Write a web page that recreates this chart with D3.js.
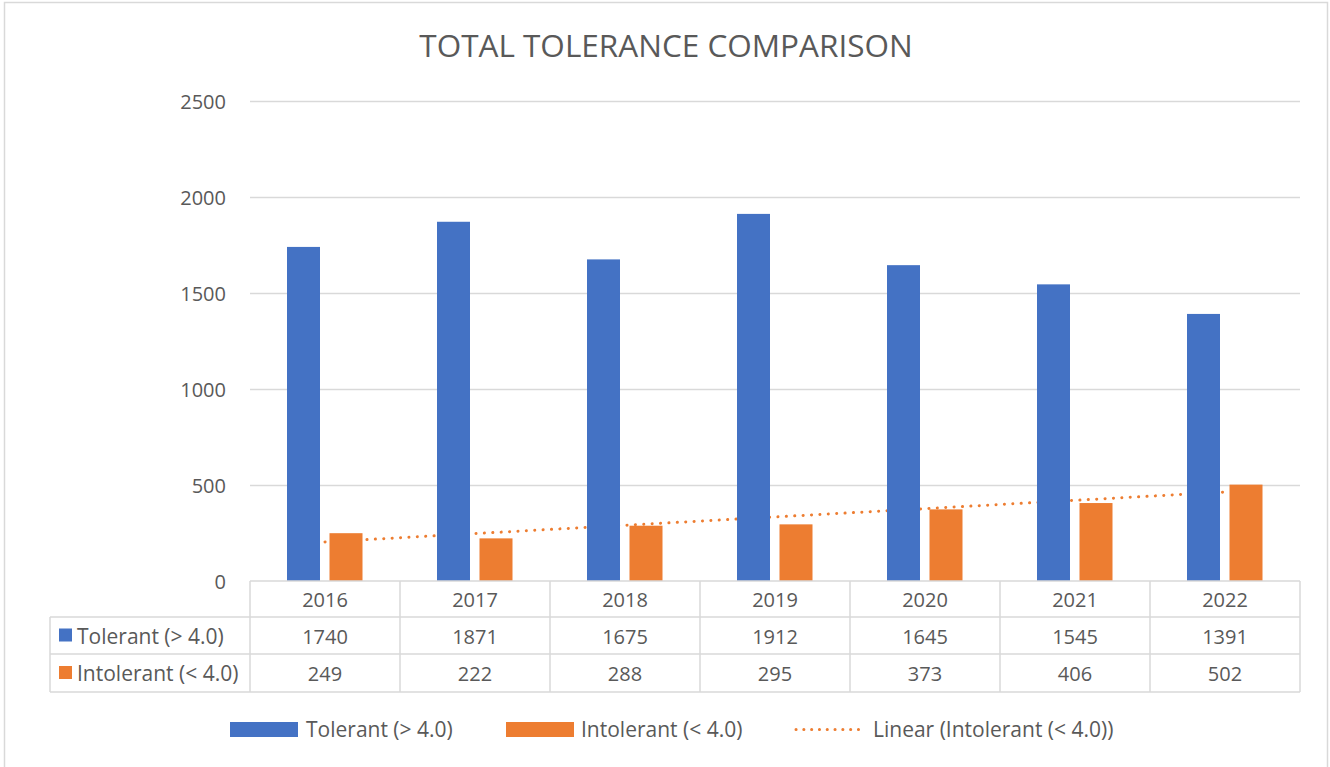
<!DOCTYPE html>
<html lang="en">
<head>
<meta charset="utf-8">
<title>Total Tolerance Comparison</title>
<script src="https://cdn.jsdelivr.net/npm/d3@7"></script>
<style>
  body { margin: 0; background: #fff; }
  text { font-family: "Open Sans", sans-serif; fill: #595959; }
</style>
</head>
<body>
<script>
// data
var years = ["2016", "2017", "2018", "2019", "2020", "2021", "2022"];
var tolerant = [1740, 1871, 1675, 1912, 1645, 1545, 1391];
var intolerant = [249, 222, 288, 295, 373, 406, 502];
var yTicks = [0, 500, 1000, 1500, 2000, 2500];
var seriesNames = ["Tolerant (> 4.0)", "Intolerant (< 4.0)"];
var trendName = "Linear (Intolerant (< 4.0))";

var W = 1330, H = 767;
var blue = "#4472C4", orange = "#ED7D31", grid = "#d9d9d9";

var svg = d3.select("body").append("svg")
    .attr("width", W)
    .attr("height", H);

// chart frame
svg.append("rect")
    .attr("x", 4.5).attr("y", 2.5)
    .attr("width", 1323).attr("height", 800)
    .attr("fill", "#fff")
    .attr("stroke", grid).attr("stroke-width", 1.5);

svg.append("text")
    .attr("x", 666).attr("y", 57)
    .attr("text-anchor", "middle")
    .style("font-size", "31.5px")
    .text("TOTAL TOLERANCE COMPARISON");

var x = d3.scaleBand().domain(years).range([250, 1300]);
var y = d3.scaleLinear().domain([0, 2500]).range([581, 101]);

// gridlines + y labels
svg.append("g").selectAll("line")
    .data(yTicks.slice(1))
    .join("line")
    .attr("x1", 250).attr("x2", 1300)
    .attr("y1", function(d) { return y(d) + 0.5; })
    .attr("y2", function(d) { return y(d) + 0.5; })
    .attr("stroke", grid).attr("stroke-width", 1.3);

svg.append("g").selectAll("text")
    .data(yTicks)
    .join("text")
    .attr("x", 226)
    .attr("y", function(d) { return y(d) + 8; })
    .attr("text-anchor", "end")
    .style("font-size", "20px")
    .text(function(d) { return d; });

// trend line (least squares on the intolerant series), drawn under the bars
var n = intolerant.length;
var mx = d3.mean(intolerant, function(d, i) { return i + 1; });
var my = d3.mean(intolerant);
var sxy = d3.sum(intolerant, function(d, i) { return (i + 1 - mx) * (d - my); });
var sxx = d3.sum(intolerant, function(d, i) { return (i + 1 - mx) * (i + 1 - mx); });
var slope = sxy / sxx, icpt = my - slope * mx;
var cx = function(yr) { return x(yr) + x.bandwidth() / 2; };

svg.append("line")
    .attr("x1", cx(years[0])).attr("x2", cx(years[n - 1]))
    .attr("y1", y(icpt + slope * 1)).attr("y2", y(icpt + slope * n))
    .attr("stroke", orange).attr("stroke-width", 3)
    .attr("stroke-linecap", "round")
    .attr("stroke-dasharray", "0.1 8.3");

var barW = 33;
svg.append("g").selectAll("rect")
    .data(tolerant)
    .join("rect")
    .attr("x", function(d, i) { return cx(years[i]) - 38; })
    .attr("y", function(d) { return y(d); })
    .attr("width", barW)
    .attr("height", function(d) { return y(0) - y(d); })
    .attr("fill", blue);

svg.append("g").selectAll("rect")
    .data(intolerant)
    .join("rect")
    .attr("x", function(d, i) { return cx(years[i]) + 4.5; })
    .attr("y", function(d) { return y(d); })
    .attr("width", barW)
    .attr("height", function(d) { return y(0) - y(d); })
    .attr("fill", orange);

// data table
var rowY = [581, 617, 654, 692];
var tbl = svg.append("g").attr("stroke", grid).attr("stroke-width", 1.5);
tbl.append("line").attr("x1", 250).attr("x2", 1300).attr("y1", rowY[0]).attr("y2", rowY[0]);
rowY.slice(1).forEach(function(ry) {
  tbl.append("line").attr("x1", 50).attr("x2", 1300).attr("y1", ry).attr("y2", ry);
});
years.forEach(function(yr) {
  tbl.append("line").attr("x1", x(yr)).attr("x2", x(yr)).attr("y1", rowY[0]).attr("y2", rowY[3]);
});
tbl.append("line").attr("x1", 1300).attr("x2", 1300).attr("y1", rowY[0]).attr("y2", rowY[3]);
tbl.append("line").attr("x1", 50).attr("x2", 50).attr("y1", rowY[1]).attr("y2", rowY[3]);

var rowMid = function(r) { return (rowY[r] + rowY[r + 1]) / 2 + 8; };

svg.append("g").selectAll("text")
    .data(years)
    .join("text")
    .attr("x", cx).attr("y", rowMid(0))
    .attr("text-anchor", "middle")
    .style("font-size", "20px")
    .text(function(d) { return d; });

[tolerant, intolerant].forEach(function(vals, r) {
  svg.append("g").selectAll("text")
      .data(vals)
      .join("text")
      .attr("x", function(d, i) { return cx(years[i]); })
      .attr("y", rowMid(r + 1))
      .attr("text-anchor", "middle")
      .style("font-size", "20px")
      .text(function(d) { return d; });
  svg.append("rect")
      .attr("x", 59).attr("y", rowMid(r + 1) - 15)
      .attr("width", 13).attr("height", 13)
      .attr("fill", r === 0 ? blue : orange);
  svg.append("text")
      .attr("x", 77).attr("y", rowMid(r + 1))
      .style("font-size", "21px")
      .text(seriesNames[r]);
});

// legend
var lg = svg.append("g");
lg.append("rect").attr("x", 230).attr("y", 722).attr("width", 68).attr("height", 15).attr("fill", blue);
lg.append("text").attr("x", 306).attr("y", 737).style("font-size", "21px").text(seriesNames[0]);
lg.append("rect").attr("x", 506).attr("y", 722).attr("width", 68).attr("height", 15).attr("fill", orange);
lg.append("text").attr("x", 581).attr("y", 737).style("font-size", "21px").text(seriesNames[1]);
lg.append("line").attr("x1", 796).attr("x2", 866).attr("y1", 729.5).attr("y2", 729.5)
    .attr("stroke", orange).attr("stroke-width", 3)
    .attr("stroke-linecap", "round").attr("stroke-dasharray", "0.1 7.7");
lg.append("text").attr("x", 873).attr("y", 737).style("font-size", "21px").text(trendName);
</script>
</body>
</html>
